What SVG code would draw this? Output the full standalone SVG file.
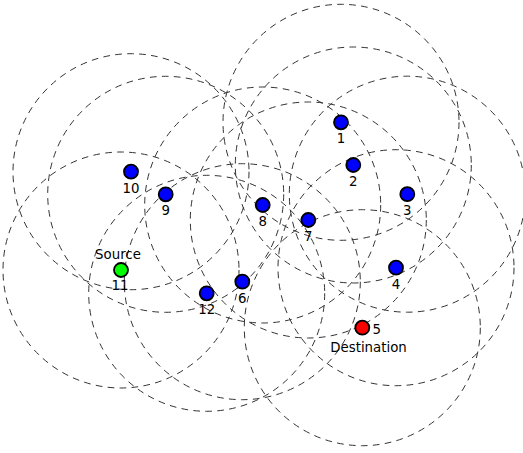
<svg xmlns="http://www.w3.org/2000/svg" width="523" height="453" viewBox="0 0 523 453">
  <style>
    .range { fill: none; stroke: #333; stroke-width: 1; stroke-dasharray: 6.7 5.3; }
    .node { stroke: #000; stroke-width: 1.8; }
    .relay { fill: #0000ff; }
    .src { fill: #00ff00; }
    .dst { fill: #ff0000; }
    text { font-family: "DejaVu Sans", sans-serif; font-size: 13.33px; fill: #000; }
    .c { text-anchor: middle; }
  </style>
  <rect width="523" height="453" fill="#fff"/>
  <!-- transmission ranges -->
  <g id="ranges">
    <circle class="range" cx="341" cy="122.3" r="118"/>
    <circle class="range" cx="353.3" cy="165" r="118"/>
    <circle class="range" cx="407.3" cy="194.2" r="118"/>
    <circle class="range" cx="396" cy="267.7" r="118"/>
    <circle class="range" cx="362.3" cy="327.7" r="118"/>
    <circle class="range" cx="242.3" cy="281.7" r="118"/>
    <circle class="range" cx="308.3" cy="220" r="118"/>
    <circle class="range" cx="262.7" cy="205" r="118"/>
    <circle class="range" cx="165.7" cy="194.3" r="118"/>
    <circle class="range" cx="131" cy="171.7" r="118"/>
    <circle class="range" cx="121" cy="270" r="118"/>
    <circle class="range" cx="206.7" cy="293.3" r="118"/>
  </g>
  <g id="n1"><circle class="node relay" cx="341" cy="122.3" r="7"/><text class="c" x="341" y="143">1</text></g>
  <g id="n2"><circle class="node relay" cx="353.3" cy="165" r="7"/><text class="c" x="353.3" y="186">2</text></g>
  <g id="n3"><circle class="node relay" cx="407.3" cy="194.2" r="7"/><text class="c" x="407.3" y="215">3</text></g>
  <g id="n4"><circle class="node relay" cx="396" cy="267.7" r="7"/><text class="c" x="396" y="288.5">4</text></g>
  <g id="n5"><circle class="node dst" cx="362.3" cy="327.7" r="7"/><text x="372.5" y="334">5</text><text class="c" x="368.5" y="351.7">Destination</text></g>
  <g id="n6"><circle class="node relay" cx="242.3" cy="281.7" r="7"/><text class="c" x="242.3" y="302.5">6</text></g>
  <g id="n7"><circle class="node relay" cx="308.3" cy="220" r="7"/><text class="c" x="308.3" y="241">7</text></g>
  <g id="n8"><circle class="node relay" cx="262.7" cy="205" r="7"/><text class="c" x="262.7" y="225.7">8</text></g>
  <g id="n9"><circle class="node relay" cx="165.7" cy="194.3" r="7"/><text class="c" x="165.7" y="215">9</text></g>
  <g id="n10"><circle class="node relay" cx="131" cy="171.7" r="7"/><text class="c" x="131" y="192.5">10</text></g>
  <g id="n11"><circle class="node src" cx="121" cy="270" r="7"/><text class="c" x="118" y="259.3">Source</text><text class="c" x="120" y="290.3">11</text></g>
  <g id="n12"><circle class="node relay" cx="206.7" cy="293.3" r="7"/><text class="c" x="206.7" y="314">12</text></g>
</svg>
